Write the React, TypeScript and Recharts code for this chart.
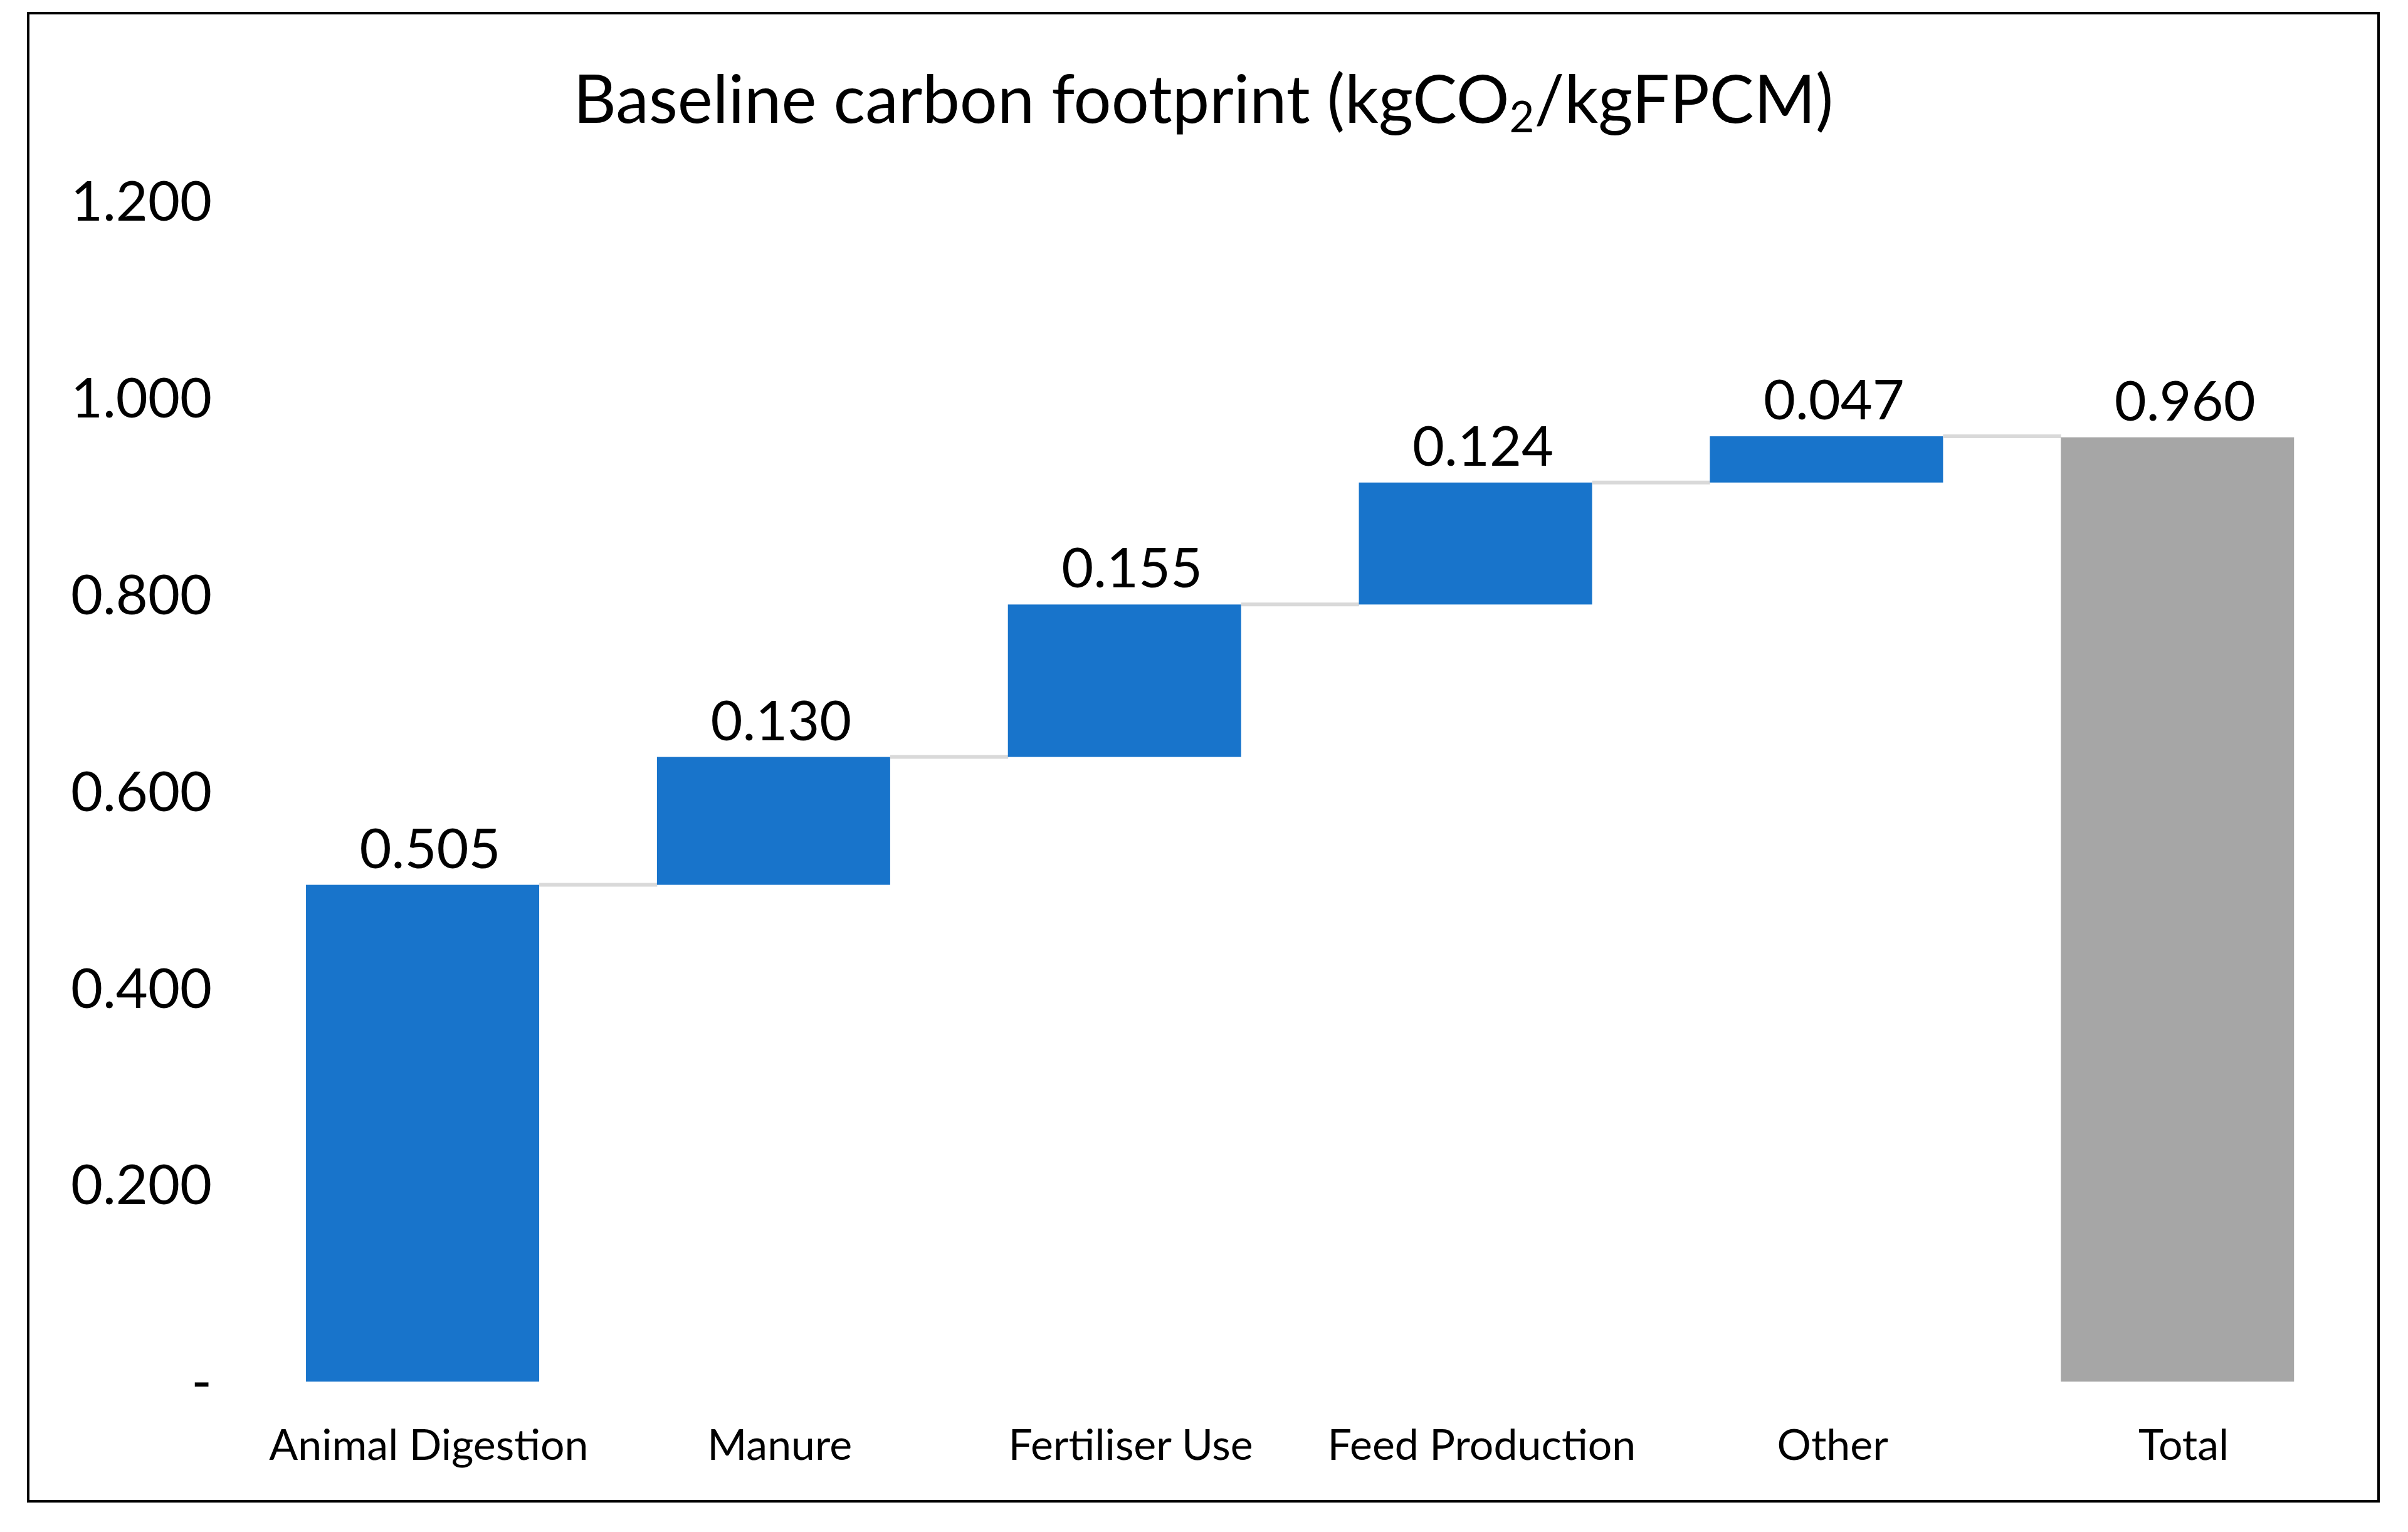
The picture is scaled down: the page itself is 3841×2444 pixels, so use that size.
import { Bar, BarChart, Cell, LabelList, XAxis, YAxis } from "recharts"

const categories = ["Animal Digestion", "Manure", "Fertiliser Use", "Feed Production", "Other", "Total"]
const values = [0.505, 0.13, 0.155, 0.124, 0.047, 0.96]
const totalFlags = [false, false, false, false, false, true]
const yTicks = [0, 0.2, 0.4, 0.6, 0.8, 1.0, 1.2]

const BLUE = "#1874CB"
const GREY = "#A6A6A6"
const CONNECTOR = "#D9D9D9"
const GAP = 0.168
const FONT = "Lato, 'Open Sans', sans-serif"

// waterfall: invisible base + visible step
let running = 0
const data = categories.map((name, i) => {
  const total = totalFlags[i]
  const base = total ? 0 : running
  if (!total) running += values[i]
  return { name, base, value: values[i], total }
})

function StepBar(props: any) {
  const { x, y, width, height, index, payload } = props
  const span = (width * 2 * GAP) / (1 - 2 * GAP)
  return (
    <g>
      <rect x={x} y={y} width={width} height={height} fill={payload.total ? GREY : BLUE} />
      {index < data.length - 1 && (
        <line x1={x + width} x2={x + width + span} y1={y} y2={y} stroke={CONNECTOR} strokeWidth={6} />
      )}
    </g>
  )
}

export default function App() {
  return (
    <div
      style={{
        position: "absolute",
        left: 43,
        top: 19,
        width: 3753,
        height: 2378,
        border: "4px solid #000",
        boxSizing: "border-box",
        background: "#fff",
        fontFamily: FONT,
      }}
    >
      <div
        style={{
          position: "absolute",
          left: 0,
          right: 0,
          top: 79,
          textAlign: "center",
          fontSize: 106,
          lineHeight: 1,
          color: "#000",
        }}
      >
        Baseline carbon footprint (kgCO
        <span style={{ fontSize: "0.65em", verticalAlign: "-0.22em" }}>2</span>
        /kgFPCM)
      </div>
      <BarChart
        width={3745}
        height={2370}
        data={data}
        margin={{ top: 298, right: 39, bottom: 0, left: 0 }}
        barCategoryGap={`${GAP * 100}%`}
      >
        <XAxis
          dataKey="name"
          axisLine={false}
          tickLine={false}
          tickSize={0}
          tickMargin={77}
          height={189}
          interval={0}
          tick={{ fontSize: 68, fill: "#000", fontFamily: FONT, dx: 10 }}
        />
        <YAxis
          domain={[0, 1.2]}
          ticks={yTicks}
          width={347}
          axisLine={false}
          tickLine={false}
          tickSize={0}
          tickMargin={56}
          tickFormatter={(v: number) => (v === 0 ? "-" : v.toFixed(3))}
          tick={{ fontSize: 88, fill: "#000", fontFamily: FONT }}
        />
        <Bar dataKey="base" stackId="w" fill="transparent" isAnimationActive={false} />
        <Bar dataKey="value" stackId="w" shape={StepBar} isAnimationActive={false}>
          {data.map((d) => (
            <Cell key={d.name} fill={d.total ? GREY : BLUE} />
          ))}
          <LabelList
            dataKey="value"
            position="top"
            offset={27}
            dx={12}
            formatter={(v: number) => v.toFixed(3)}
            style={{ fontSize: 88, fill: "#000", fontFamily: FONT }}
          />
        </Bar>
      </BarChart>
    </div>
  )
}
